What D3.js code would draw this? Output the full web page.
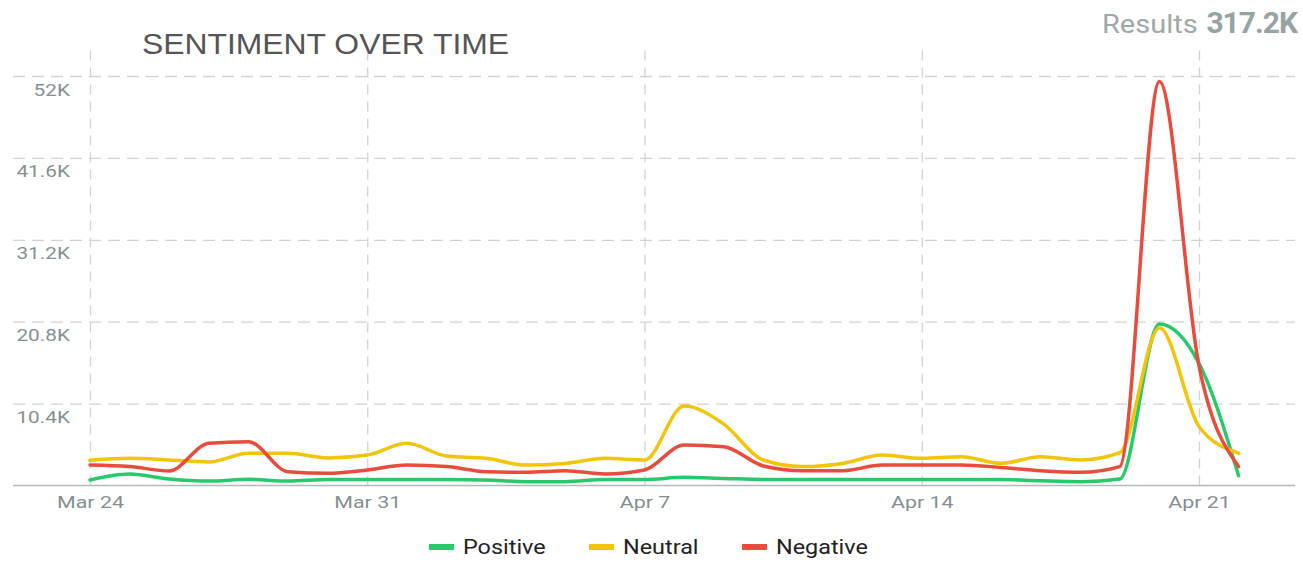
<!DOCTYPE html>
<html>
<head>
<meta charset="utf-8">
<script src="https://cdn.jsdelivr.net/npm/d3@7"></script>
<style>
  html, body { margin: 0; padding: 0; background: #fff; }
  svg { display: block; }
</style>
</head>
<body>
<svg id="chart" width="1303" height="563"></svg>
<script>
// Daily mention counts by sentiment
const dates = ["2019-03-24","2019-03-25","2019-03-26","2019-03-27","2019-03-28","2019-03-29","2019-03-30",
  "2019-03-31","2019-04-01","2019-04-02","2019-04-03","2019-04-04","2019-04-05","2019-04-06",
  "2019-04-07","2019-04-08","2019-04-09","2019-04-10","2019-04-11","2019-04-12","2019-04-13",
  "2019-04-14","2019-04-15","2019-04-16","2019-04-17","2019-04-18","2019-04-19","2019-04-20",
  "2019-04-21","2019-04-22"];
const positive = [700,1460,830,570,790,570,760,760,760,760,700,490,490,760,760,1040,900,760,760,760,760,
  760,760,760,600,490,830,20500,15500,1250];
const neutral = [3200,3450,3240,3000,4100,4100,3500,3870,5360,3750,3450,2600,2800,3450,3240,10100,7800,3240,2400,2800,3870,
  3450,3660,2820,3660,3240,4170,20000,7500,4100];
const negative = [2600,2400,1850,5360,5560,1750,1550,1970,2600,2400,1750,1670,1880,1460,1970,5140,4930,2480,1880,1880,2600,
  2600,2600,2300,1880,1670,2400,51300,15200,2400];

const seriesNames = ["Positive", "Neutral", "Negative"];
const seriesColors = ["#27c96a", "#f2c40c", "#e74c3c"];
const xTickDates = ["2019-03-24","2019-03-31","2019-04-07","2019-04-14","2019-04-21"];
const yTickValues = [10400, 20800, 31200, 41600, 52000];
const totalLabel = "317.2K";

const parse = d3.utcParse("%Y-%m-%d");
const series = [positive, neutral, negative].map((vals, i) => ({
  name: seriesNames[i], color: seriesColors[i],
  values: vals.map((v, j) => ({ date: parse(dates[j]), value: v }))
}));

const svg = d3.select("#chart");
const plotLeft = 13, plotRight = 1295, plotTop = 48, plotBottom = 485.5;

const x = d3.scaleUtc()
  .domain([parse("2019-03-24"), parse("2019-04-21")])
  .range([90, 1199]);
const y = d3.scaleLinear().domain([0, 52000]).range([plotBottom, 76]);

const gridColor = "#d2d2d2";

// widen glyphs horizontally by a factor while keeping their height
function widen(sel, factor) {
  sel.each(function () {
    const el = d3.select(this);
    el.attr("textLength", null).attr("lengthAdjust", null);
    const w = this.getComputedTextLength();
    el.attr("textLength", w * factor).attr("lengthAdjust", "spacingAndGlyphs");
  });
}

// vertical grid + x labels
const xAxis = svg.append("g")
  .attr("transform", `translate(0,${plotBottom})`)
  .call(d3.axisBottom(x)
    .tickValues(xTickDates.map(parse))
    .tickSize(-(plotBottom - plotTop))
    .tickFormat(d3.utcFormat("%b %-d")));
xAxis.select(".domain").remove();
xAxis.selectAll(".tick line")
  .attr("stroke", gridColor).attr("stroke-width", 1.3).attr("stroke-dasharray", "10,7");
const xLabels = xAxis.selectAll(".tick text")
  .attr("y", 22).attr("dy", 0)
  .attr("font-family", "Roboto, sans-serif").attr("font-size", 17)
  .attr("fill", "#858f91");

// horizontal grid + y labels
const yAxis = svg.append("g")
  .attr("transform", `translate(${plotLeft},0)`)
  .call(d3.axisLeft(y)
    .tickValues(yTickValues)
    .tickSize(-(plotRight - plotLeft))
    .tickFormat(v => (v / 1000) + "K"));
yAxis.select(".domain").remove();
yAxis.selectAll(".tick line")
  .attr("stroke", gridColor).attr("stroke-width", 1.3).attr("stroke-dasharray", "12,7");
const yLabels = yAxis.selectAll(".tick text")
  .attr("x", 57).attr("dy", 19)
  .attr("text-anchor", "end")
  .attr("font-family", "Roboto, sans-serif").attr("font-size", 16.5)
  .attr("fill", "#858f91");

// baseline
svg.append("line")
  .attr("x1", plotLeft).attr("x2", plotRight)
  .attr("y1", y(0)).attr("y2", y(0))
  .attr("stroke", "#b4b8ba").attr("stroke-width", 1.5);

// sentiment lines
const line = d3.line()
  .x(d => x(d.date))
  .y(d => y(d.value))
  .curve(d3.curveMonotoneX);

svg.append("g").selectAll("path")
  .data(series)
  .join("path")
  .attr("fill", "none")
  .attr("stroke", d => d.color)
  .attr("stroke-width", 3.5)
  .attr("stroke-linejoin", "round")
  .attr("stroke-linecap", "round")
  .attr("d", d => line(d.values));

// title
const title = svg.append("text")
  .attr("x", 142).attr("y", 54)
  .attr("font-family", "'Liberation Sans', Arial, sans-serif")
  .attr("font-size", 29.5)
  .attr("fill", "#555555")
  .text("SENTIMENT OVER TIME");

// results total
const resWord = svg.append("text")
  .attr("x", 1102).attr("y", 33)
  .attr("font-family", "Roboto, sans-serif")
  .attr("font-size", 25)
  .attr("fill", "#9ea9a9")
  .text("Results");
const resValue = svg.append("text")
  .attr("x", 1297).attr("y", 33)
  .attr("text-anchor", "end")
  .attr("font-family", "Roboto, sans-serif")
  .attr("font-size", 30).attr("font-weight", 700)
  .attr("letter-spacing", -1)
  .attr("fill", "#95a3a3")
  .text(totalLabel);

// legend
const legendX = [429, 589, 742];
const legend = svg.append("g").selectAll("g")
  .data(series)
  .join("g")
  .attr("transform", (d, i) => `translate(${legendX[i]},547)`);
legend.append("line")
  .attr("x1", 0).attr("x2", 25).attr("y1", 0).attr("y2", 0)
  .attr("stroke", d => d.color).attr("stroke-width", 6);
const legendText = legend.append("text")
  .attr("x", 34).attr("y", 7)
  .attr("font-family", "Roboto, sans-serif").attr("font-size", 19.5)
  .attr("fill", "#222222")
  .text(d => d.name);

function applyWidths() {
  widen(xLabels, 1.26);
  widen(yLabels, 1.26);
  widen(legendText, 1.2);
  widen(resWord, 1.16);
  widen(title, 1.08);
}
applyWidths();
if (document.fonts && document.fonts.ready) document.fonts.ready.then(applyWidths);
</script>
</body>
</html>
